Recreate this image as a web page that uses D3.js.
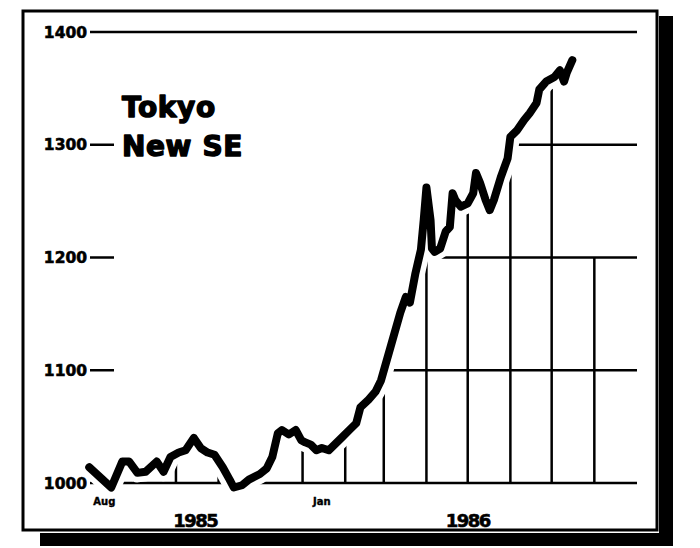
<!DOCTYPE html>
<html>
<head>
<meta charset="utf-8">
<script src="https://cdn.jsdelivr.net/npm/d3@7"></script>
<style>
  body { margin: 0; background: #fff; }
  svg { display: block; }
  text { font-family: 'DejaVu Sans', sans-serif; font-weight: bold; fill: #000; }
</style>
</head>
<body>
<div id="chart"></div>
<script>
// Tokyo New SE index (Aug 1985 - Jul 1986)
const dates = [
  '1985-07-30', '1985-08-15', '1985-08-23', '1985-08-28', '1985-09-03', '1985-09-09',
  '1985-09-17', '1985-09-22', '1985-09-27', '1985-10-03', '1985-10-08', '1985-10-14',
  '1985-10-19', '1985-10-24', '1985-10-29', '1985-11-04', '1985-11-09', '1985-11-12',
  '1985-11-18', '1985-11-23', '1985-12-01', '1985-12-06', '1985-12-10', '1985-12-14',
  '1985-12-17', '1985-12-22', '1985-12-27', '1985-12-31', '1986-01-03', '1986-01-07',
  '1986-01-11', '1986-01-15', '1986-01-20', '1986-01-25', '1986-01-30', '1986-02-04',
  '1986-02-09', '1986-02-12', '1986-02-18', '1986-02-23', '1986-02-27', '1986-03-06',
  '1986-03-13', '1986-03-17', '1986-03-20', '1986-03-24', '1986-03-28', '1986-03-30',
  '1986-04-01', '1986-04-04', '1986-04-05', '1986-04-07', '1986-04-11', '1986-04-15',
  '1986-04-18', '1986-04-20', '1986-04-22', '1986-04-26', '1986-05-01', '1986-05-05',
  '1986-05-07', '1986-05-10', '1986-05-14', '1986-05-17', '1986-05-20', '1986-05-25',
  '1986-05-30', '1986-06-01', '1986-06-06', '1986-06-11', '1986-06-15', '1986-06-20',
  '1986-06-22', '1986-06-27', '1986-07-03', '1986-07-07', '1986-07-10', '1986-07-12',
  '1986-07-16'
]
const values = [
  1014, 996, 1019, 1019, 1009, 1010,
  1019, 1010, 1023, 1027, 1029, 1040,
  1031, 1027, 1025, 1014, 1003, 996,
  998, 1003, 1008, 1013, 1023, 1044,
  1047, 1043, 1047, 1038, 1036, 1034,
  1029, 1031, 1029, 1035, 1041, 1047,
  1053, 1067, 1074, 1081, 1091, 1121,
  1151, 1165, 1160, 1186, 1207, 1233,
  1262, 1233, 1208, 1205, 1208, 1223,
  1227, 1257, 1251, 1245, 1248, 1257,
  1275, 1266, 1251, 1242, 1251, 1271,
  1288, 1307, 1313, 1322, 1328, 1337,
  1349, 1356, 1360, 1366, 1356, 1364,
  1375
]
const yTicks = [1000, 1100, 1200, 1300, 1400]
const monthLabels = [['1985-08-10', 'Aug'], ['1986-01-15', 'Jan']]
const yearLabels = [['1985-10-15', '1985'], ['1986-05-01', '1986']]

const parse = d3.timeParse('%Y-%m-%d')
const data = dates.map((d, i) => ({ date: parse(d), value: values[i] }))

const width = 700, height = 548

const x = d3.scaleTime()
  .domain([new Date(1985, 7, 1), new Date(1986, 8, 1)])
  .range([92, 637])
const y = d3.scaleLinear()
  .domain([1000, 1400])
  .range([483, 32])

const svg = d3.select('#chart').append('svg')
  .attr('width', width)
  .attr('height', height)

svg.append('rect').attr('width', width).attr('height', height).attr('fill', '#fff')

// frame + drop shadow
svg.append('rect')
  .attr('x', 659).attr('y', 16).attr('width', 14).attr('height', 530)
  .attr('fill', '#000')
svg.append('rect')
  .attr('x', 40).attr('y', 533).attr('width', 633).attr('height', 13)
  .attr('fill', '#000')
svg.append('rect')
  .attr('x', 23).attr('y', 11).attr('width', 634).attr('height', 519)
  .attr('fill', '#fff')
  .attr('stroke', '#000')
  .attr('stroke-width', 3)

// clip regions: grid only shows under the curve
const last = data[data.length - 1]
const bottom = y(1000) + 6
function clipPoly(extY) {
  const pts = [[x(data[0].date), bottom]]
  data.forEach(d => pts.push([x(d.date), y(d.value)]))
  pts.push([x(last.date) + 4, extY])
  pts.push([x.range()[1] + 5, extY])
  pts.push([x.range()[1] + 5, bottom])
  return 'M' + pts.join('L') + 'Z'
}
const defs = svg.append('defs')
defs.append('clipPath').attr('id', 'clipH')
  .append('path').attr('d', clipPoly(y(last.value)))
defs.append('clipPath').attr('id', 'clipV')
  .append('path').attr('d', clipPoly(y(1200)))

const grid = svg.append('g').attr('stroke', '#000').attr('stroke-width', 2.5)

grid.append('g').attr('clip-path', 'url(#clipH)')
  .selectAll('line')
  .data(yTicks.filter(t => t < 1400))
  .join('line')
  .attr('x1', 95).attr('x2', x.range()[1])
  .attr('y1', d => y(d)).attr('y2', d => y(d))

grid.append('g').attr('clip-path', 'url(#clipV)')
  .selectAll('line')
  .data(d3.timeMonth.range(new Date(1985, 8, 1), new Date(1986, 7, 2)))
  .join('line')
  .attr('x1', d => x(d)).attr('x2', d => x(d))
  .attr('y1', y(1000)).attr('y2', 20)

// y axis: labels with a short dash, top line runs full width
const yAxis = svg.append('g')
yAxis.selectAll('text')
  .data(yTicks)
  .join('text')
  .attr('x', 87)
  .attr('y', d => y(d))
  .attr('dy', '0.36em')
  .attr('text-anchor', 'end')
  .attr('font-size', 15.5)
  .attr('stroke', '#000')
  .attr('stroke-width', 0.6)
  .text(d => d)
yAxis.selectAll('line')
  .data(yTicks)
  .join('line')
  .attr('x1', 90)
  .attr('x2', d => d === 1400 ? x.range()[1] : (d === 1000 ? 98 : 114))
  .attr('y1', d => y(d)).attr('y2', d => y(d))
  .attr('stroke', '#000')
  .attr('stroke-width', 2.5)

// the index line, with white halo to cut the grid
const line = d3.line()
  .x(d => x(d.date))
  .y(d => y(d.value))
  .curve(d3.curveLinear)

svg.append('path')
  .datum(data)
  .attr('d', line)
  .attr('fill', 'none')
  .attr('stroke', '#fff')
  .attr('stroke-width', 19)
  .attr('stroke-linejoin', 'round')
  .attr('stroke-linecap', 'round')

svg.append('path')
  .datum(data)
  .attr('d', line)
  .attr('fill', 'none')
  .attr('stroke', '#000')
  .attr('stroke-width', 8)
  .attr('stroke-linejoin', 'round')
  .attr('stroke-linecap', 'round')

// x labels
svg.append('g').selectAll('text')
  .data(monthLabels)
  .join('text')
  .attr('x', d => x(parse(d[0])))
  .attr('y', 505)
  .attr('text-anchor', 'middle')
  .attr('font-size', 10)
  .attr('stroke', '#000')
  .attr('stroke-width', 0.4)
  .text(d => d[1])

svg.append('g').selectAll('text')
  .data(yearLabels)
  .join('text')
  .attr('x', d => x(parse(d[0])))
  .attr('y', 527)
  .attr('text-anchor', 'middle')
  .attr('font-size', 18)
  .attr('letter-spacing', -1.5)
  .attr('stroke', '#000')
  .attr('stroke-width', 0.6)
  .text(d => d[1])

// title
const title = svg.append('text')
  .attr('x', 122)
  .attr('font-size', 28)
  .attr('font-weight', 900)
  .attr('stroke', '#000')
  .attr('stroke-width', 1.4)
  .attr('stroke-linejoin', 'round')
  .attr('letter-spacing', 0.6)
title.append('tspan').attr('x', 122).attr('y', 117).text('Tokyo')
title.append('tspan').attr('x', 122).attr('y', 156).text('New SE')
</script>
</body>
</html>
